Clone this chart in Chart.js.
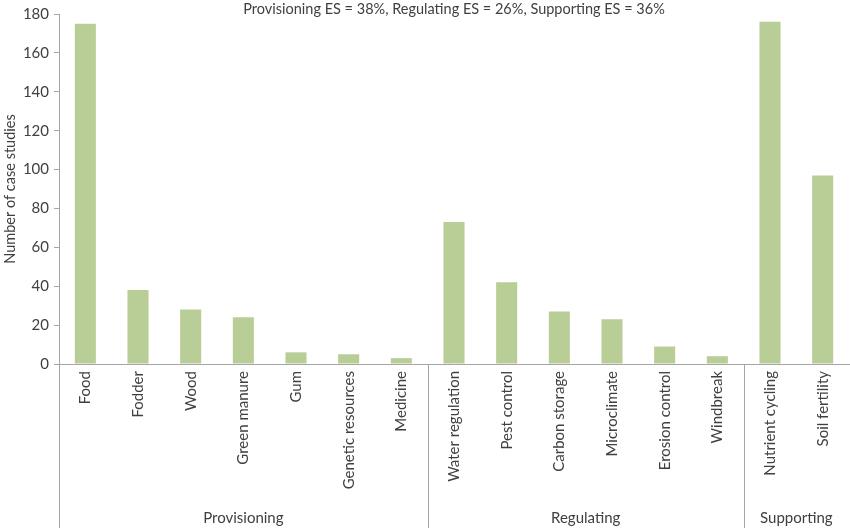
<!DOCTYPE html>
<html><head><meta charset="utf-8">
<script src="https://cdn.jsdelivr.net/npm/chart.js@4/dist/chart.umd.min.js"></script>
<style>html,body{margin:0;padding:0;background:#fff}#wrap{width:850px;height:528px;position:relative}</style>
</head><body><div id="wrap"><canvas id="c"></canvas></div>
<script>
const categories = ['Food','Fodder','Wood','Green manure','Gum','Genetic resources','Medicine',
  'Water regulation','Pest control','Carbon storage','Microclimate','Erosion control','Windbreak',
  'Nutrient cycling','Soil fertility'];
const caseStudies = [175,38,28,24,6,5,3,73,42,27,23,9,4,176,97];
const groupNames = ['Provisioning','Regulating','Supporting'];
const groupSizes = [7,6,2];
const titleText = 'Provisioning ES = 38%, Regulating ES = 26%, Supporting ES = 36%';
const yAxisTitle = 'Number of case studies';
const yMin = 0, yMax = 180, yStep = 20;

const FONT = 'Lato';
const TEXT = '#404040';
const LINE = '#A6A6A6';

const overlay = {
  id: 'overlay',
  afterDraw(chart) {
    const ctx = chart.ctx, ca = chart.chartArea, xs = chart.scales.x;
    const H = chart.height;
    ctx.save();
    ctx.fillStyle = TEXT;
    ctx.font = '14.5px ' + FONT;
    ctx.textAlign = 'center';
    ctx.textBaseline = 'middle';
    ctx.fillText(titleText, (ca.left + ca.right) / 2, 9);
    ctx.font = '14.5px ' + FONT;
    ctx.save();
    ctx.translate(10, (ca.top + ca.bottom) / 2);
    ctx.rotate(-Math.PI / 2);
    ctx.fillText(yAxisTitle, 0, 0);
    ctx.restore();
    ctx.strokeStyle = LINE;
    ctx.lineWidth = 1;
    let start = 0;
    const bounds = [ca.left];
    groupSizes.forEach((n) => {
      const end = start + n - 1;
      const right = end + 1 < categories.length
        ? (xs.getPixelForValue(end) + xs.getPixelForValue(end + 1)) / 2
        : ca.right;
      bounds.push(right);
      start += n;
    });
    bounds.forEach((b, i) => {
      if (i === bounds.length - 1) return;
      const x = Math.round(b) + 0.5;
      ctx.beginPath();
      ctx.moveTo(x, ca.bottom);
      ctx.lineTo(x, H);
      ctx.stroke();
    });
    ctx.font = '15px ' + FONT;
    groupNames.forEach((g, i) => {
      ctx.fillText(g, (bounds[i] + bounds[i + 1]) / 2, 518);
    });
    ctx.restore();
  }
};

new Chart(document.getElementById('c'), {
  type: 'bar',
  data: {
    labels: categories,
    datasets: [{
      data: caseStudies,
      backgroundColor: '#B9CE96',
      borderWidth: 0,
      categoryPercentage: 0.4,
      barPercentage: 1
    }]
  },
  options: {
    responsive: true,
    maintainAspectRatio: false,
    animation: false,
    layout: { padding: { top: 0, right: 1, left: 0, bottom: 0 } },
    plugins: { legend: { display: false }, tooltip: { enabled: false }, title: { display: false } },
    scales: {
      x: {
        offset: true,
        grid: { display: false, drawTicks: false },
        border: { display: true, color: LINE, width: 1 },
        ticks: {
          color: TEXT, font: { family: FONT, size: 15 },
          minRotation: 90, maxRotation: 90, autoSkip: false, padding: 7
        },
        afterFit(scale) { scale.height = 164; }
      },
      y: {
        min: yMin, max: yMax,
        grid: { display: true, drawOnChartArea: false, drawTicks: true, tickLength: 5, color: LINE },
        border: { display: true, color: LINE, width: 1 },
        ticks: { stepSize: yStep, color: TEXT, font: { family: FONT, size: 15 }, padding: 5 },
        afterFit(scale) { scale.width = 59; }
      }
    }
  },
  plugins: [overlay]
});
</script>
</body></html>
